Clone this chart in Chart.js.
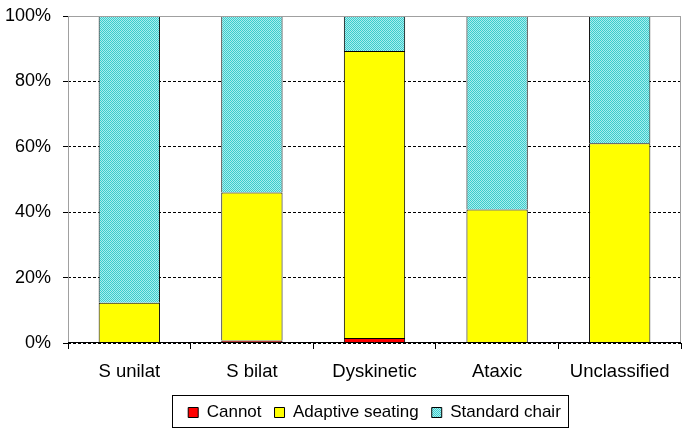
<!DOCTYPE html>
<html>
<head>
<meta charset="utf-8">
<script src="https://cdn.jsdelivr.net/npm/chart.js@4"></script>
<style>
    html, body { margin: 0; padding: 0; background: #fff; }
    #wrap { width: 685px; height: 431px; }
</style>
</head>
<body>
<div id="wrap"><canvas id="seatingChart" width="685" height="431"></canvas></div>
<script>
const categories = ['S unilat', 'S bilat', 'Dyskinetic', 'Ataxic', 'Unclassified'];
const cannot = [0, 0.8, 1.5, 0, 0];
const adaptiveSeating = [12.3, 45.2, 87.8, 40.8, 61.1];
const standardChair = [87.7, 54.0, 10.7, 59.2, 38.9];
const yTicks = [0, 20, 40, 60, 80, 100];

// cyan dotted fill like the original
function makePattern() {
    const c = document.createElement('canvas');
    c.width = 2; c.height = 2;
    const g = c.getContext('2d');
    g.fillStyle = '#a8eeee';
    g.fillRect(0, 0, 2, 2);
    g.fillStyle = '#3ccccc';
    g.fillRect(0, 0, 1, 1);
    g.fillRect(1, 1, 1, 1);
    return g.createPattern(c, 'repeat');
}

const frame = {
    id: 'frame',
    afterDraw(chart) {
        const ctx = chart.ctx;
        const a = chart.chartArea;
        ctx.save();
        ctx.strokeStyle = '#a0a0a0';
        ctx.lineWidth = 1;
        ctx.beginPath();
        ctx.moveTo(a.left + 0.5, a.bottom);
        ctx.lineTo(a.left + 0.5, a.top + 0.5);
        ctx.lineTo(a.right - 0.5, a.top + 0.5);
        ctx.lineTo(a.right - 0.5, a.bottom);
        ctx.stroke();
        ctx.strokeStyle = '#000';
        ctx.beginPath();
        ctx.moveTo(a.left, a.bottom - 0.5);
        ctx.lineTo(a.right, a.bottom - 0.5);
        ctx.stroke();
        // box round the legend
        ctx.strokeRect(172.5, 395.5, 396, 32);
        ctx.restore();
    }
};

const ctx = document.getElementById('seatingChart').getContext('2d');
const pattern = makePattern();

new Chart(ctx, {
    type: 'bar',
    data: {
        labels: categories,
        datasets: [
            { label: 'Cannot', data: cannot, backgroundColor: '#ff0000', borderColor: '#000', borderWidth: 1 },
            { label: 'Adaptive seating', data: adaptiveSeating, backgroundColor: '#ffff00', borderColor: '#000', borderWidth: 1 },
            { label: 'Standard chair', data: standardChair, backgroundColor: pattern, borderColor: '#000', borderWidth: 1 }
        ]
    },
    options: {
        responsive: false,
        animation: false,
        layout: { padding: { left: 0, right: 4, top: 16, bottom: 0 } },
        datasets: { bar: { categoryPercentage: 1, barPercentage: 0.5 } },
        scales: {
            x: {
                stacked: true,
                afterFit(s) { s.height = 48; s.paddingLeft = 0; s.paddingRight = 0; },
                border: { display: false },
                grid: { drawOnChartArea: false, offset: true, color: '#000', tickLength: 6 },
                ticks: { color: '#000', font: { family: 'Liberation Sans', size: 18.5 }, padding: 12 }
            },
            y: {
                stacked: true,
                min: 0,
                max: 100,
                afterFit(s) { s.width = 68; s.paddingTop = 0; s.paddingBottom = 0; },
                afterBuildTicks(s) { s.ticks = yTicks.map(v => ({ value: v })); },
                border: { display: false, dash: [3, 2] },
                grid: {
                    color: ctx => ctx.tick && ctx.tick.value === 100 ? '#a0a0a0' : '#000',
                    tickLength: 5,
                    tickBorderDash: [],
                    tickColor: '#000'
                },
                ticks: {
                    color: '#000',
                    font: { family: 'Liberation Sans', size: 18 },
                    padding: 12,
                    callback: v => v + '%'
                }
            }
        },
        plugins: {
            tooltip: { enabled: false },
            legend: {
                position: 'bottom',
                fullSize: false,
                labels: {
                    color: '#000',
                    font: { family: 'Liberation Sans', size: 17 },
                    boxWidth: 10,
                    boxHeight: 10,
                    padding: 13,
                    useBorderRadius: false
                }
            }
        }
    },
    plugins: [frame]
});
</script>
</body>
</html>
